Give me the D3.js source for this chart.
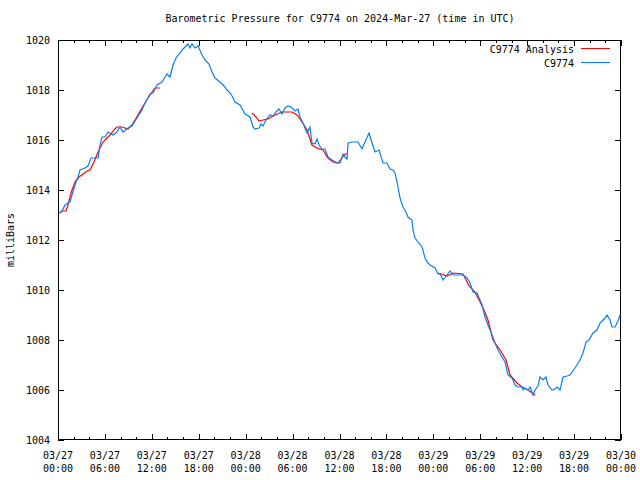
<!DOCTYPE html>
<html><head><meta charset="utf-8">
<script src="https://cdn.jsdelivr.net/npm/d3@7"></script>
<style>body{margin:0;background:#fff}svg{display:block}text{font-family:"DejaVu Sans Mono","Liberation Mono",monospace;font-size:10px;fill:#000}</style>
</head><body><svg id="c" width="640" height="480"></svg>
<script>
const title = "Barometric Pressure for C9774 on 2024-Mar-27 (time in UTC)";
const yLabel = "milliBars";
const yTicks = [1004,1006,1008,1010,1012,1014,1016,1018,1020];
const xTickHours = [0,6,12,18,24,30,36,42,48,54,60,66,72];
const xTickDates = ["03/27","03/27","03/27","03/27","03/28","03/28","03/28","03/28","03/29","03/29","03/29","03/29","03/30"];
const xTickTimes = ["00:00","06:00","12:00","18:00","00:00","06:00","12:00","18:00","00:00","06:00","12:00","18:00","00:00"];
const seriesNames = ["C9774 Analysis","C9774"];
const seriesColors = ["#ff0000","#0a7ef0"];

// Station observations (hours since 2024-03-27 00:00 UTC, mb)
const obsHours = [0.13,0.51,0.90,1.28,1.53,1.79,2.17,2.56,2.81,3.45,3.84,4.22,5.12,5.37,5.63,6.01,6.39,7.03,7.55,7.93,8.31,8.95,9.46,10.10,10.74,11.13,11.77,12.15,12.66,13.30,13.94,14.32,14.71,15.09,15.47,15.99,16.37,16.63,16.88,17.14,17.52,17.91,18.42,18.80,19.31,19.70,20.08,20.72,21.23,21.61,22.13,22.64,23.28,23.92,24.56,24.94,25.20,25.71,25.97,26.22,26.60,27.11,27.50,27.88,28.26,28.65,29.03,29.42,29.80,30.31,30.69,30.95,31.33,31.85,32.23,32.48,32.87,33.12,33.38,33.76,34.15,34.53,35.04,35.68,36.07,36.45,36.71,36.96,37.09,37.60,38.37,38.88,39.26,39.78,40.16,40.54,41.05,41.57,42.08,42.46,42.84,43.10,43.36,43.74,44.12,44.38,44.76,45.27,45.40,45.66,46.04,46.55,46.94,47.19,47.58,48.22,48.60,48.86,49.24,49.75,50.13,50.52,51.80,52.31,52.69,53.08,53.59,53.97,54.23,54.61,54.99,55.51,55.89,56.27,56.78,57.17,57.55,58.06,58.45,58.83,59.34,59.47,59.72,60.11,60.37,60.75,61.01,61.39,61.64,62.03,62.41,62.67,63.18,63.56,63.82,64.20,64.59,65.10,65.48,66.12,66.76,67.14,67.53,67.91,68.42,68.93,69.32,69.96,70.21,70.60,70.85,71.24,71.62,71.88];
const obsValues = [1013.08,1013.16,1013.40,1013.48,1013.52,1013.80,1014.20,1014.52,1014.80,1014.88,1014.96,1015.28,1015.28,1015.80,1016.12,1016.12,1016.32,1016.20,1016.32,1016.52,1016.32,1016.48,1016.56,1016.88,1017.20,1017.48,1017.84,1017.88,1018.20,1018.32,1018.64,1018.52,1019.00,1019.28,1019.44,1019.64,1019.76,1019.84,1019.68,1019.84,1019.68,1019.76,1019.40,1019.20,1019.04,1018.72,1018.48,1018.32,1018.16,1018.00,1017.84,1017.52,1017.40,1017.04,1016.92,1016.52,1016.44,1016.48,1016.64,1016.56,1016.80,1017.00,1016.96,1017.12,1017.24,1017.04,1017.28,1017.36,1017.32,1017.16,1017.24,1016.92,1016.68,1016.28,1016.52,1015.88,1015.84,1016.04,1015.80,1015.64,1015.64,1015.32,1015.20,1015.08,1015.08,1015.44,1015.32,1015.24,1015.88,1015.92,1015.92,1015.64,1015.92,1016.28,1015.88,1015.52,1015.60,1015.08,1015.08,1014.84,1014.80,1014.68,1014.32,1013.68,1013.32,1013.20,1012.92,1012.80,1012.40,1012.08,1011.92,1011.72,1011.28,1011.12,1011.00,1010.88,1010.64,1010.64,1010.40,1010.60,1010.76,1010.60,1010.60,1010.48,1010.28,1009.92,1009.88,1009.60,1009.40,1008.92,1008.60,1008.20,1007.88,1007.60,1007.32,1007.12,1006.60,1006.48,1006.20,1006.12,1006.12,1006.00,1006.08,1006.00,1006.12,1005.80,1006.00,1006.16,1006.52,1006.40,1006.52,1006.20,1006.00,1006.04,1006.12,1006.00,1006.52,1006.56,1006.60,1006.88,1007.20,1007.48,1007.92,1008.00,1008.28,1008.40,1008.68,1008.88,1009.00,1008.80,1008.52,1008.52,1008.76,1009.00];

// Analysis (null = gap)
const anaHours = [0.26,0.51,1.02,1.28,1.66,2.17,2.69,3.20,3.71,4.09,4.60,5.12,5.76,6.14,6.65,7.16,7.55,8.19,8.95,9.46,9.85,10.74,11.51,12.02,12.41,13.04,null,24.81,25.33,25.71,26.22,26.86,27.75,28.65,29.93,30.57,31.21,31.85,32.48,33.12,33.89,34.53,35.17,35.81,36.32,36.71,36.96,null,48.60,49.75,50.52,51.80,52.57,53.33,54.36,54.99,55.63,56.53,57.30,57.81,58.70,59.34,60.11,61.01];
const anaValues = [1013.08,1013.16,1013.16,1013.40,1013.88,1014.32,1014.52,1014.64,1014.76,1014.80,1015.12,1015.52,1015.92,1016.04,1016.20,1016.40,1016.52,1016.52,1016.44,1016.60,1016.80,1017.28,1017.68,1017.92,1018.08,1018.08,null,1017.08,1016.92,1016.76,1016.80,1016.84,1017.00,1017.12,1017.12,1017.00,1016.72,1016.40,1015.80,1015.68,1015.60,1015.28,1015.12,1015.08,1015.28,1015.44,1015.44,null,1010.68,1010.56,1010.68,1010.64,1010.16,1009.92,1009.28,1008.80,1008.00,1007.60,1007.20,1006.60,1006.28,1006.12,1006.00,1005.80];

const svg = d3.select("#c");
const L = 58, R = 621, T = 40, B = 440;
const x = d3.scaleLinear().domain([0,72]).range([L,R]);
const y = d3.scaleLinear().domain([1004,1020]).range([B,T]);

svg.append("text").attr("x",340).attr("y",22).attr("text-anchor","middle").text(title);
svg.append("text").attr("transform","translate(14,240) rotate(-90)").attr("text-anchor","middle").text(yLabel);

const axes = svg.append("g").attr("shape-rendering","crispEdges");
const minorHours = d3.range(0,73,2);
function strip(g){ g.select(".domain").remove(); g.attr("font-family",null).attr("font-size",null); }
axes.append("g").attr("transform",`translate(0,${B})`)
  .call(d3.axisBottom(x).tickValues(minorHours).tickSize(-3).tickFormat("")).call(strip);
axes.append("g").attr("transform",`translate(0,${B})`)
  .call(d3.axisBottom(x).tickValues(xTickHours).tickSize(-6).tickFormat("")).call(strip);
axes.append("g").attr("transform",`translate(0,${T})`)
  .call(d3.axisTop(x).tickValues(minorHours).tickSize(-3).tickFormat("")).call(strip);
axes.append("g").attr("transform",`translate(0,${T})`)
  .call(d3.axisTop(x).tickValues(xTickHours).tickSize(-6).tickFormat("")).call(strip);
axes.append("g").attr("transform",`translate(${L},0)`)
  .call(d3.axisLeft(y).tickValues(yTicks).tickSize(-6).tickPadding(8).tickFormat(d3.format("d"))).call(strip);
axes.append("g").attr("transform",`translate(${R},0)`)
  .call(d3.axisRight(y).tickValues(yTicks).tickSize(-6).tickFormat("")).call(strip);
svg.selectAll(".tick line").attr("stroke","#000");
svg.selectAll(".tick text").attr("fill","#000");

const xl = svg.append("g");
xTickHours.forEach((h,i)=>{
  xl.append("text").attr("x",x(h)).attr("y",459).attr("text-anchor","middle").text(xTickDates[i]);
  xl.append("text").attr("x",x(h)).attr("y",472).attr("text-anchor","middle").text(xTickTimes[i]);
});

axes.append("rect").attr("x",L+0.5).attr("y",T+0.5).attr("width",R-L-1).attr("height",B-T-1)
  .attr("fill","none").attr("stroke","#000");

const anaData = anaHours.map((h,i)=>[h,anaValues[i]]);
const obsData = obsHours.map((h,i)=>[h,obsValues[i]]);
const line = d3.line().defined(d=>d[0]!==null && d[1]!==null).x(d=>x(d[0])).y(d=>y(d[1]));
svg.append("path").datum(anaData).attr("d",line).attr("fill","none").attr("stroke",seriesColors[0]).attr("stroke-width",1.2);
svg.append("path").datum(obsData).attr("d",line).attr("fill","none").attr("stroke",seriesColors[1]).attr("stroke-width",1.2);

const leg = svg.append("g");
[49,63].forEach((yy,i)=>{
  leg.append("text").attr("x",574).attr("y",yy+4).attr("text-anchor","end").text(seriesNames[i]);
  leg.append("rect").attr("x",581).attr("y",yy-1).attr("width",29).attr("height",1).attr("fill",seriesColors[i]);
});
</script></body></html>
